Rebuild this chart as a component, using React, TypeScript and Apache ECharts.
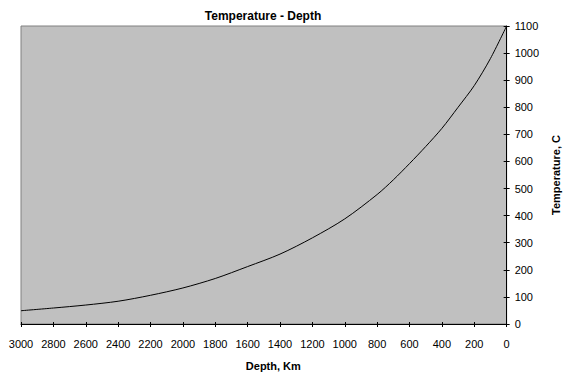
import React, { useEffect, useRef } from "react";
import * as echarts from "echarts";

const depthKm = [3000, 2800, 2600, 2400, 2200, 2000, 1800, 1600, 1400, 1200, 1000, 800, 700, 600, 500, 400, 300, 200, 100, 0];
const temperatureC = [49, 59, 70, 84, 106, 133, 168, 212, 258, 318, 388, 478, 532, 592, 655, 722, 800, 880, 980, 1100];

const titleText = "Temperature - Depth";
const xName = "Depth, Km";
const yName = "Temperature, C";

export default function App() {
  const ref = useRef<HTMLDivElement>(null);
  useEffect(() => {
    document.body.style.margin = "0";
    const chart = echarts.init(ref.current!, null, { renderer: "svg" });
    const font = "Liberation Sans, Arial, sans-serif";
    const plain = (v: number) => String(v);
    const baseX = {
      type: "value",
      inverse: true,
      min: 0,
      max: 3000,
      interval: 200,
      position: "bottom",
      splitLine: { show: false },
    };
    const baseY = {
      type: "value",
      min: 0,
      max: 1100,
      interval: 100,
      position: "right",
      splitLine: { show: false },
    };
    chart.setOption({
      animation: false,
      backgroundColor: "#ffffff",
      title: {
        text: titleText,
        left: 258,
        top: 5,
        textAlign: "center",
        textStyle: { fontFamily: font, fontSize: 12, fontWeight: "bold", color: "#000" },
      },
      grid: {
        left: 21,
        right: 59,
        top: 26,
        bottom: 51,
        show: true,
        backgroundColor: "#C0C0C0",
        borderColor: "#808080",
        borderWidth: 1,
      },
      xAxis: [
        {
          ...baseX,
          name: xName,
          nameLocation: "middle",
          nameGap: 36,
          nameTextStyle: { fontFamily: font, fontSize: 11, fontWeight: "bold", color: "#000", padding: [0, 0, 0, 19] },
          axisLine: { show: true, lineStyle: { color: "#000", width: 1 } },
          axisTick: { show: true, inside: false, length: 3, lineStyle: { color: "#000" } },
          axisLabel: { margin: 14, fontFamily: font, fontSize: 11, color: "#000", formatter: plain },
        },
        {
          ...baseX,
          axisLine: { show: false },
          axisTick: { show: true, inside: true, length: 2, lineStyle: { color: "#000" } },
          axisLabel: { show: false },
        },
      ],
      yAxis: [
        {
          ...baseY,
          name: yName,
          nameLocation: "middle",
          nameGap: 43,
          nameRotate: 90,
          nameTextStyle: { fontFamily: font, fontSize: 11, fontWeight: "bold", color: "#000" },
          axisLine: { show: true, lineStyle: { color: "#000", width: 1 } },
          axisTick: { show: true, inside: false, length: 3, lineStyle: { color: "#000" } },
          axisLabel: { margin: 8, fontFamily: font, fontSize: 11, color: "#000", formatter: plain },
        },
        {
          ...baseY,
          axisLine: { show: false },
          axisTick: { show: true, inside: true, length: 3, lineStyle: { color: "#000" } },
          axisLabel: { show: false },
        },
      ],
      series: [
        {
          type: "line",
          xAxisIndex: 0,
          yAxisIndex: 0,
          data: depthKm.map((d, i) => [d, temperatureC[i]]),
          smooth: 0.3,
          showSymbol: false,
          lineStyle: { color: "#000", width: 1 },
        },
      ],
    });
    return () => chart.dispose();
  }, []);
  return <div ref={ref} style={{ width: 569, height: 376 }} />;
}
